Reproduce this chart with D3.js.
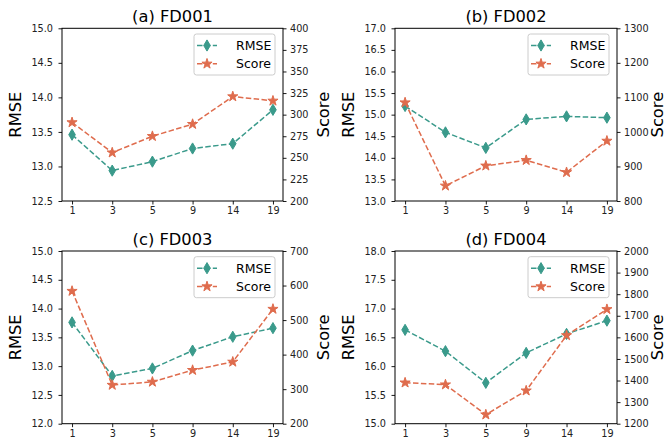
<!DOCTYPE html>
<html>
<head>
<meta charset="utf-8">
<script src="https://cdn.jsdelivr.net/npm/d3@7"></script>
<style>
  html, body { margin: 0; padding: 0; background: #fff; }
  svg { display: block; font-family: "DejaVu Sans", sans-serif; }
</style>
</head>
<body>
<svg id="chart" width="668" height="441"></svg>
<script>
// ---- data ----
const xLabels = ["1", "3", "5", "9", "14", "19"];
const titles = ["(a) FD001", "(b) FD002", "(c) FD003", "(d) FD004"];

const rmseFD001 = [13.46, 12.94, 13.07, 13.26, 13.33, 13.82];
const scoreFD001 = [291, 256, 275, 289, 321, 316];
const rmseFD002 = [15.20, 14.59, 14.23, 14.89, 14.96, 14.93];
const scoreFD002 = [1085, 844, 902, 918, 883, 974];
const rmseFD003 = [13.76, 12.83, 12.96, 13.27, 13.51, 13.66];
const scoreFD003 = [584, 312, 321, 355, 379, 532];
const rmseFD004 = [16.63, 16.26, 15.71, 16.23, 16.56, 16.79];
const scoreFD004 = [1390, 1381, 1242, 1353, 1609, 1730];

const rmseTicks001 = [12.5, 13.0, 13.5, 14.0, 14.5, 15.0];
const scoreTicks001 = [200, 225, 250, 275, 300, 325, 350, 375, 400];
const rmseTicks002 = [13.0, 13.5, 14.0, 14.5, 15.0, 15.5, 16.0, 16.5, 17.0];
const scoreTicks002 = [800, 900, 1000, 1100, 1200, 1300];
const rmseTicks003 = [12.0, 12.5, 13.0, 13.5, 14.0, 14.5, 15.0];
const scoreTicks003 = [200, 300, 400, 500, 600, 700];
const rmseTicks004 = [15.0, 15.5, 16.0, 16.5, 17.0, 17.5, 18.0];
const scoreTicks004 = [1200, 1300, 1400, 1500, 1600, 1700, 1800, 1900, 2000];

const seriesNames = ["RMSE", "Score"];

// ---- layout / style ----
const colRmse = "#3a9a8b";
const colScore = "#df6c4d";
const panels = [
  { title: titles[0], rmse: rmseFD001, score: scoreFD001, rt: rmseTicks001, st: scoreTicks001, x0: 62, x1: 283, y0: 28.3, y1: 201 },
  { title: titles[1], rmse: rmseFD002, score: scoreFD002, rt: rmseTicks002, st: scoreTicks002, x0: 395, x1: 617, y0: 28.3, y1: 201 },
  { title: titles[2], rmse: rmseFD003, score: scoreFD003, rt: rmseTicks003, st: scoreTicks003, x0: 62, x1: 283, y0: 251, y1: 423.7 },
  { title: titles[3], rmse: rmseFD004, score: scoreFD004, rt: rmseTicks004, st: scoreTicks004, x0: 395, x1: 617, y0: 251, y1: 423.7 }
];

const svg = d3.select("#chart");
const tickFont = 9.7;
const diamond = "M0,-5.6L3.3,0L0,5.6L-3.3,0Z";
const star = d3.symbol().type(d3.symbolStar).size(32)();

function drawMarker(g, kind, x, y) {
  if (kind === 0) {
    g.append("path").attr("d", diamond).attr("transform", `translate(${x},${y})`)
      .attr("fill", colRmse).attr("stroke", colRmse).attr("stroke-width", 1);
  } else {
    g.append("path").attr("d", star).attr("transform", `translate(${x},${y})`)
      .attr("fill", colScore).attr("stroke", colScore).attr("stroke-width", 1);
  }
}

panels.forEach(p => {
  const g = svg.append("g");
  // matplotlib 5% margin: index range -0.25..5.25
  const xi = d3.scaleLinear().domain([-0.25, xLabels.length - 1 + 0.25]).range([p.x0, p.x1]);
  const yL = d3.scaleLinear().domain([p.rt[0], p.rt[p.rt.length - 1]]).range([p.y1, p.y0]);
  const yR = d3.scaleLinear().domain([p.st[0], p.st[p.st.length - 1]]).range([p.y1, p.y0]);

  // axes
  const axB = d3.axisBottom(xi)
    .tickValues(d3.range(xLabels.length)).tickFormat(i => xLabels[i]).tickSize(3.5).tickPadding(2.5);
  const axL = d3.axisLeft(yL).tickValues(p.rt).tickFormat(d3.format(".1f")).tickSize(3.5).tickPadding(5.5);
  const axR = d3.axisRight(yR).tickValues(p.st).tickFormat(d3.format("d")).tickSize(3.5).tickPadding(3.5);

  [[axB, `translate(0,${p.y1})`], [axL, `translate(${p.x0},0)`], [axR, `translate(${p.x1},0)`]].forEach(([ax, tr]) => {
    const a = g.append("g").attr("transform", tr).call(ax);
    a.select(".domain").remove();
    a.selectAll("line").attr("stroke", "#000").attr("stroke-width", 0.9);
    a.selectAll("text").attr("font-size", tickFont).attr("fill", "#222")
      .attr("font-family", "DejaVu Sans");
  });

  // spines
  g.append("rect").attr("x", p.x0).attr("y", p.y0).attr("width", p.x1 - p.x0).attr("height", p.y1 - p.y0)
    .attr("fill", "none").attr("stroke", "#000").attr("stroke-width", 1);

  // lines
  const lineL = d3.line().x((d, i) => xi(i)).y(d => yL(d));
  const lineR = d3.line().x((d, i) => xi(i)).y(d => yR(d));
  g.append("path").attr("d", lineL(p.rmse)).attr("fill", "none").attr("stroke", colRmse)
    .attr("stroke-width", 1.5).attr("stroke-dasharray", "5.5,2.4");
  p.rmse.forEach((d, i) => drawMarker(g, 0, xi(i), yL(d)));
  g.append("path").attr("d", lineR(p.score)).attr("fill", "none").attr("stroke", colScore)
    .attr("stroke-width", 1.5).attr("stroke-dasharray", "5.5,2.4");
  p.score.forEach((d, i) => drawMarker(g, 1, xi(i), yR(d)));

  // title
  g.append("text").attr("x", (p.x0 + p.x1) / 2).attr("y", p.y0 - 6.5).attr("text-anchor", "middle")
    .attr("font-size", 16.3).attr("fill", "#000").text(p.title);

  // y labels
  const cy = (p.y0 + p.y1) / 2;
  g.append("text").attr("transform", `translate(${p.x0 - 41},${cy}) rotate(-90)`).attr("text-anchor", "middle")
    .attr("font-size", 16.3).attr("fill", "#000").text(seriesNames[0]);
  g.append("text").attr("transform", `translate(${p.x1 + 46},${cy}) rotate(-90)`).attr("text-anchor", "middle")
    .attr("font-size", 16.3).attr("fill", "#000").text(seriesNames[1]);

  // legend
  const lx = p.x1 - 89, ly = p.y0 + 5.7;
  const lg = g.append("g");
  lg.append("rect").attr("x", lx).attr("y", ly).attr("width", 81).attr("height", 41).attr("rx", 2.5)
    .attr("fill", "#fff").attr("fill-opacity", 0.8).attr("stroke", "#cccccc").attr("stroke-width", 1);
  seriesNames.forEach((name, k) => {
    const ry = ly + 11.5 + k * 18.3;
    const col = k === 0 ? colRmse : colScore;
    lg.append("line").attr("x1", lx + 3).attr("x2", lx + 23).attr("y1", ry).attr("y2", ry)
      .attr("stroke", col).attr("stroke-width", 1.5).attr("stroke-dasharray", "5.5,2.4");
    drawMarker(lg, k, lx + 13, ry);
    lg.append("text").attr("x", lx + 42).attr("y", ry + 4.5).attr("font-size", 12.5).attr("fill", "#000").text(name);
  });
});
</script>
</body>
</html>
